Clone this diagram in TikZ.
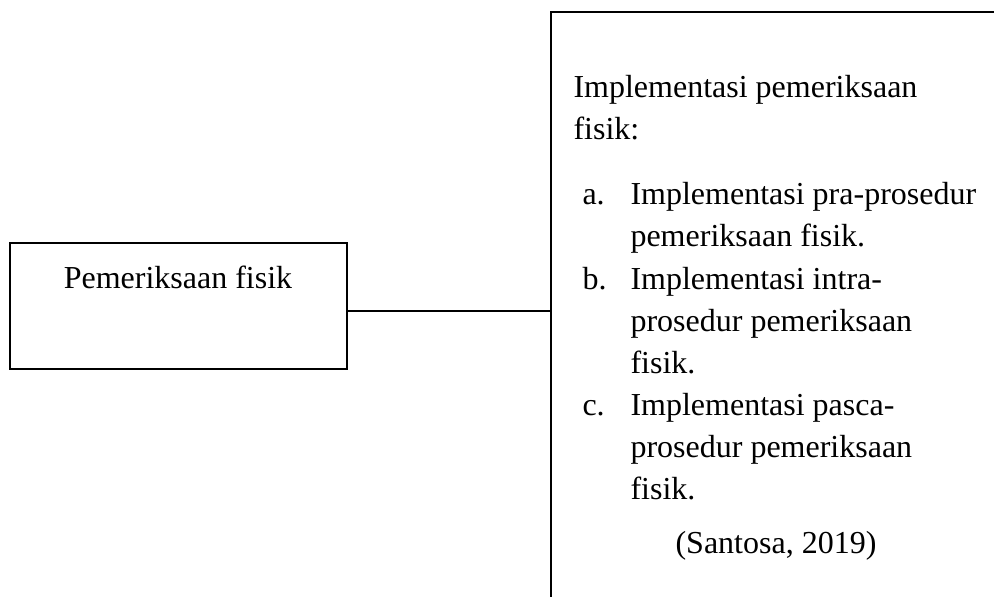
\documentclass[tikz,border=0pt]{standalone}
\usepackage{fontspec}
\setmainfont{Liberation Serif}
\usetikzlibrary{positioning}

% top-aligned block, baseline on its first line
\newcommand{\isi}[1]{\parbox[t]{160pt}{\raggedright #1}}

\tikzset{
  kotak/.style={draw, line width=1pt, minimum width=126.4pt, minimum height=47.25pt, inner sep=0pt},
  garis/.style={line width=1pt},
  hubung/.style={line width=0.5pt},
  teks/.style={font=\fontsize{12}{15.75}\selectfont, inner sep=0pt, anchor=base west},
}

\begin{document}
\begin{tikzpicture}[x=0.375pt, y=-0.375pt]
  \useasboundingbox (0,0) rectangle (994,597);

  % Left box
  \node[kotak] (fisik) at (178.5,306) {};
  \node[teks, anchor=base] (fisiklbl) at (178,288) {Pemeriksaan fisik};

  % Right box (open to the right and bottom)
  \draw[garis] (994,12) -| (551,597);
  \coordinate (kanan) at (551,311);

  % Connector
  \draw[hubung] (fisik.east |- kanan) -- (kanan);

  % Contents of the right box
  \node[teks] (judul) at (573,97) {\isi{Implementasi pemeriksaan\\fisik:}};

  \node[teks] (hurufa) at (582,204) {a.};
  \node[teks] (itema) at (630,204) {\isi{Implementasi pra-prosedur\\pemeriksaan fisik.}};
  \node[teks] (hurufb) at (582,289) {b.};
  \node[teks] (itemb) at (630,289) {\isi{Implementasi intra-\\prosedur pemeriksaan\\fisik.}};
  \node[teks] (hurufc) at (582,415) {c.};
  \node[teks] (itemc) at (630,415) {\isi{Implementasi pasca-\\prosedur pemeriksaan\\fisik.}};

  \node[teks, anchor=base] (sumber) at (776,553) {(Santosa, 2019)};
\end{tikzpicture}
\end{document}
